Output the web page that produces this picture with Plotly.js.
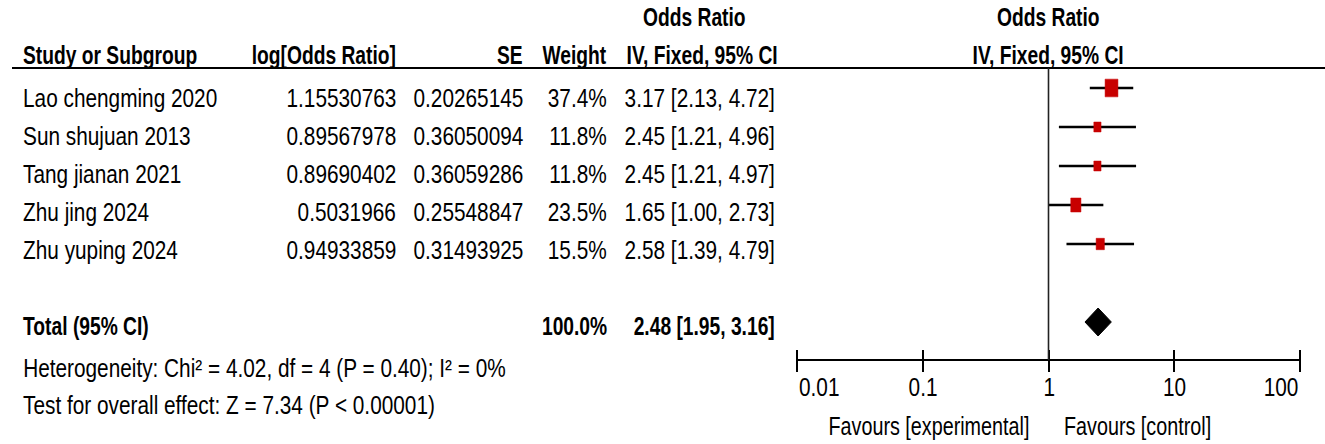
<!DOCTYPE html>
<html>
<head>
<meta charset="utf-8">
<script src="https://cdn.plot.ly/plotly-3.0.1.min.js"></script>
<style>html,body{margin:0;padding:0;background:#fff;}#chart{width:1325px;height:444px;}</style>
</head>
<body>
<div id="chart"></div>
<script>
// ---- data ----
const studies = ["Lao chengming 2020", "Sun shujuan 2013", "Tang jianan 2021", "Zhu jing 2024", "Zhu yuping 2024"];
const logOR = ["1.15530763", "0.89567978", "0.89690402", "0.5031966", "0.94933859"];
const se = ["0.20265145", "0.36050094", "0.36059286", "0.25548847", "0.31493925"];
const weight = [37.4, 11.8, 11.8, 23.5, 15.5];
const orVal = [3.17, 2.45, 2.45, 1.65, 2.58];
const ciLow = [2.13, 1.21, 1.21, 1.00, 1.39];
const ciHigh = [4.72, 4.96, 4.97, 2.73, 4.79];
const totalWeight = 100.0;
const totalOR = 2.48, totalLow = 1.95, totalHigh = 3.16;
const heterogeneityText = "Heterogeneity: Chi² = 4.02, df = 4 (P = 0.40); I² = 0%";
const overallText = "Test for overall effect: Z = 7.34 (P < 0.00001)";
const tickVals = [0.01, 0.1, 1, 10, 100];
const tickText = ["0.01", "0.1", "1", "10", "100"];
const favoursLeft = "Favours [experimental]";
const favoursRight = "Favours [control]";

// ---- layout helpers ----
const W = 1325, H = 444;
const markRow0 = 88, markRowPx = 39;              // plot rows (pixels)
const yr = p => (p - markRow0) / markRowPx;        // pixel -> plot row units
const xp = p => p / W;                             // pixel -> paper x
const ypap = p => 1 - p / H;                       // pixel -> paper y
const textRow = i => 98 + 38 * i;                  // text row centres (pixels)
const pxPerDecade = (1300 - 797) / 4;
const font = "'Liberation Sans', Arial, sans-serif";
const FS = 26, FSB = 26, SX = 0.80, SXB = 0.74;

const rows = studies.map((s, i) => i);
const totalRow = 6;

// CI lines
const ciX = [], ciY = [];
rows.forEach((r, i) => { ciX.push(ciLow[i], ciHigh[i], null); ciY.push(r, r, null); });

// weighted boxes (width/height proportional to sqrt(weight))
const boxX = [], boxY = [];
rows.forEach((r, i) => {
  const hw = 1.05 * Math.sqrt(weight[i]) / pxPerDecade;   // half width in decades
  const hh = 1.45 * Math.sqrt(weight[i]) / markRowPx;      // half height in rows
  const a = orVal[i] * Math.pow(10, -hw), b = orVal[i] * Math.pow(10, hw);
  boxX.push(a, b, b, a, a, null);
  boxY.push(r - hh, r - hh, r + hh, r + hh, r - hh, null);
});

const dh = 14 / markRowPx;
const traces = [
  {x: ciX, y: ciY, mode: "lines", line: {color: "#000", width: 2.6}, hoverinfo: "skip"},
  {x: boxX, y: boxY, mode: "lines", fill: "toself", fillcolor: "#c80000", line: {color: "#c80000", width: 0.5}, hoverinfo: "skip"},
  {x: [totalLow, totalOR, totalHigh, totalOR, totalLow], y: [totalRow, totalRow - dh, totalRow, totalRow + dh, totalRow],
   mode: "lines", fill: "toself", fillcolor: "#000", line: {color: "#000", width: 1}, hoverinfo: "skip"},
  {x: [1], y: [0], mode: "markers", marker: {opacity: 0}, hoverinfo: "skip", xaxis: "x2", yaxis: "y"}
];

const ann = [], scales = [];
function txt(text, xPix, yPix, anchor, bold) {
  ann.push({text: bold ? "<b>" + text + "</b>" : text, x: xp(xPix), xref: "paper", y: ypap(yPix), yref: "paper",
    xanchor: anchor, yanchor: "middle", showarrow: false, font: {family: font, size: bold ? FSB : FS, color: "#000"}});
  scales.push(bold ? SXB : SX);
}
// headers
txt("Odds Ratio", 694, 17, "center", true);
txt("Odds Ratio", 1048, 17, "center", true);
txt("Study or Subgroup", 21, 55, "left", true);
txt("log[Odds Ratio]", 398, 55, "right", true);
txt("SE", 525, 55, "right", true);
txt("Weight", 609, 55, "right", true);
txt("IV, Fixed, 95% CI", 702, 55, "center", true);
txt("IV, Fixed, 95% CI", 1048, 55, "center", true);
// study rows
studies.forEach((s, i) => {
  const y = textRow(i);
  txt(s, 21, y, "left", false);
  txt(logOR[i], 398, y, "right", false);
  txt(se[i], 525, y, "right", false);
  txt(weight[i].toFixed(1) + "%", 609, y, "right", false);
  txt(orVal[i].toFixed(2) + " [" + ciLow[i].toFixed(2) + ", " + ciHigh[i].toFixed(2) + "]", 777, y, "right", false);
});
// total
txt("Total (95% CI)", 21, 326, "left", true);
txt(totalWeight.toFixed(1) + "%", 609, 326, "right", true);
txt(totalOR.toFixed(2) + " [" + totalLow.toFixed(2) + ", " + totalHigh.toFixed(2) + "]", 777, 326, "right", true);
txt(heterogeneityText, 21, 368, "left", false);
txt(overallText, 21, 405, "left", false);
// tick labels (annotation x on a log axis is given in log10 units)
tickVals.forEach((v, i) => {
  ann.push({text: tickText[i], x: Math.log10(v), xref: "x", y: ypap(387), yref: "paper",
    xanchor: i === 0 ? "left" : (i === tickVals.length - 1 ? "right" : "center"),
    yanchor: "middle", showarrow: false, font: {family: font, size: FS, color: "#000"}});
  scales.push(SX);
});
ann.push({text: favoursLeft, x: 0, xref: "x", xshift: -18, y: ypap(426), yref: "paper", xanchor: "right", yanchor: "middle",
  showarrow: false, font: {family: font, size: FS, color: "#000"}});
scales.push(0.76);
ann.push({text: favoursRight, x: 0, xref: "x", xshift: 13, y: ypap(426), yref: "paper", xanchor: "left", yanchor: "middle",
  showarrow: false, font: {family: font, size: FS, color: "#000"}});
scales.push(0.76);

const axisY = 360, tickLen = 11;
const xCommon = {type: "log", range: [-2, 2], domain: [xp(797), xp(1300)], anchor: "free",
  tickvals: tickVals, showticklabels: false, showgrid: false, zeroline: false, ticks: "outside",
  ticklen: tickLen, tickwidth: 2, tickcolor: "#000", fixedrange: true};

const layout = {
  width: W, height: H, margin: {l: 0, r: 0, t: 0, b: 0},
  paper_bgcolor: "#fff", plot_bgcolor: "rgba(0,0,0,0)", showlegend: false,
  xaxis: Object.assign({}, xCommon, {position: ypap(axisY), showline: true, linecolor: "#000", linewidth: 2}),
  xaxis2: Object.assign({}, xCommon, {position: ypap(axisY - tickLen), overlaying: "x", showline: false}),
  yaxis: {range: [yr(H), yr(0)], domain: [0, 1], visible: false, fixedrange: true},
  annotations: ann,
  shapes: [
    {type: "line", xref: "paper", yref: "paper", x0: xp(12), x1: 1, y0: ypap(68), y1: ypap(68), line: {color: "#000", width: 2}},
    {type: "line", xref: "x", yref: "paper", x0: 1, x1: 1, y0: ypap(68), y1: ypap(axisY), line: {color: "#222", width: 1.6}}
  ]
};

Plotly.newPlot("chart", traces, layout, {staticPlot: true, displayModeBar: false}).then(gd => {
  // condense the Arial-metric text horizontally to imitate the narrow RevMan font
  gd.querySelectorAll("g.annotation").forEach(g => {
    const idx = +g.getAttribute("data-index");
    const a = layout.annotations[idx];
    const t = g.querySelector("text.annotation-text");
    if (!t || !a) return;
    const bb = t.getBBox();
    const o = a.xanchor === "left" ? bb.x : (a.xanchor === "right" ? bb.x + bb.width : bb.x + bb.width / 2);
    const s = scales[idx];
    const prev = t.getAttribute("transform") || "";
    t.setAttribute("transform", prev + " translate(" + o + ",0) scale(" + s + ",1) translate(" + (-o) + ",0)");
  });
});
</script>
</body>
</html>
